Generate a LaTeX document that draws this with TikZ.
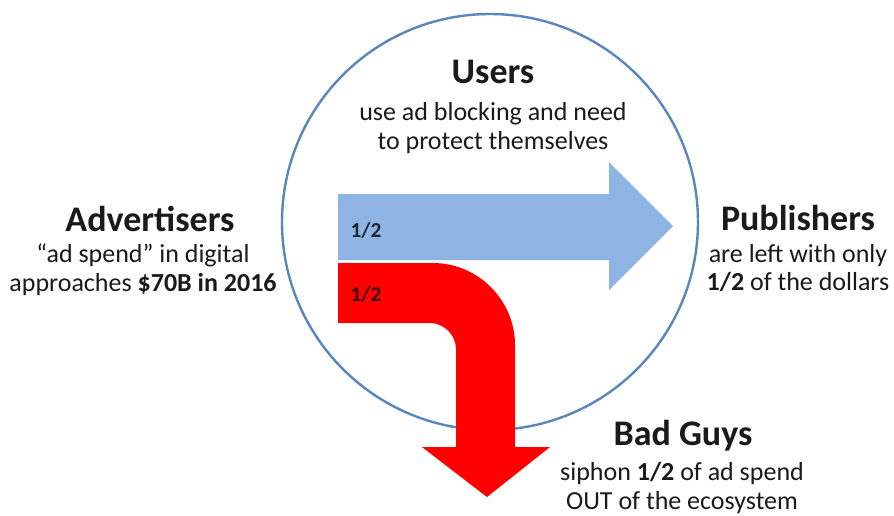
\documentclass[tikz,border=0pt]{standalone}
\usepackage{fontspec}
\setmainfont{Carlito}
\usetikzlibrary{positioning}
\definecolor{ink}{HTML}{1A1A1A}
\definecolor{ring}{HTML}{5A86BE}
\definecolor{flowblue}{HTML}{8EB4E3}
\definecolor{flowred}{HTML}{FF0000}
\definecolor{bluelab}{HTML}{1C2535}
\definecolor{redlab}{HTML}{3A0808}
\tikzset{
  head/.style={text=ink, font=\fontsize{27}{30}\selectfont\bfseries, inner sep=0pt},
  desc/.style={text=ink, font=\fontsize{19.5}{21.5}\selectfont, align=center, inner sep=0pt},
  share/.style={font=\fontsize{16}{18}\selectfont\bfseries, inner sep=0pt},
}

\begin{document}
\begin{tikzpicture}[x=0.75pt, y=-0.75pt]
  \useasboundingbox[fill=white] (0,0) rectangle (894,515);

  % the ecosystem ring
  \draw[ring, line width=1.8pt] (490,222) circle[radius=208];

  % blue flow: half reaches the publishers
  \fill[flowblue] (338,194) -- (609,194) -- (609,162) -- (673,226)
    -- (609,290) -- (609,260) -- (338,260) -- cycle;

  % red flow: half bends down and out
  \fill[flowred] (338,263) -- (433,263)
    .. controls (478,263) and (515,300) .. (515,345)
    -- (515,447) -- (550,447) -- (487,497) -- (422,447) -- (456,447)
    -- (456,349) .. controls (456,335) and (444,323) .. (430,323)
    -- (338,323) -- cycle;

  \node[share, text=bluelab] (blueHalf) at (366,230) {1/2};
  \node[share, text=redlab] (redHalf) at (366,294) {1/2};

  % the four parties
  \node[head] (users) at (493,72) {Users};
  \node[desc] (usersTxt) at (493,128) {use ad blocking and need\\to protect themselves};

  \node[head] (adv) at (150,219) {Advertisers};
  \node[desc] (advTxt) at (143,270) {“ad spend” in digital\\approaches \textbf{\$70B in 2016}};

  \node[head] (pub) at (798,218) {Publishers};
  \node[desc] (pubTxt) at (798,268) {are left with only\\\textbf{1/2} of the dollars};

  \node[head] (bad) at (683,436) {Bad Guys};
  \node[desc] (badTxt) at (682,488) {siphon \textbf{1/2} of ad spend\\OUT of the ecosystem};
\end{tikzpicture}
\end{document}
